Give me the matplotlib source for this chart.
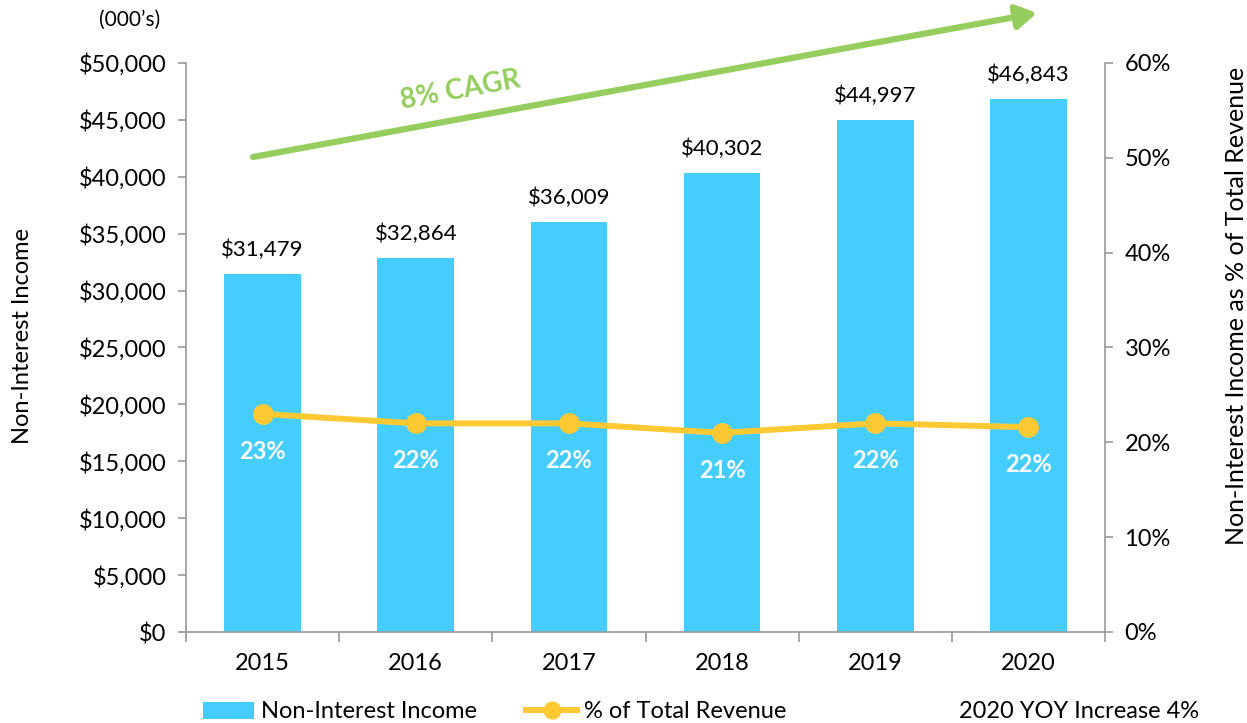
import matplotlib
matplotlib.use("Agg")
import matplotlib.pyplot as plt
from matplotlib.ticker import FuncFormatter, FixedLocator
from matplotlib.patches import Patch, FancyArrowPatch
from matplotlib.lines import Line2D

years = ["2015", "2016", "2017", "2018", "2019", "2020"]
income = [31479, 32864, 36009, 40302, 44997, 46843]
pct_revenue = [0.230, 0.220, 0.220, 0.210, 0.220, 0.216]
pct_labels = ["23%", "22%", "22%", "21%", "22%", "22%"]
left_ticks = [0, 5000, 10000, 15000, 20000, 25000, 30000, 35000, 40000, 45000, 50000]
right_ticks = [0, 0.1, 0.2, 0.3, 0.4, 0.5, 0.6]

BAR = "#46CDFF"
LINE = "#FFC933"
GREEN = "#95CE5F"
GREY = "#9A9A9A"

plt.rcParams['font.family'] = ['Lato', 'DejaVu Sans']

W, H = 1247, 723
fig = plt.figure(figsize=(W / 100, H / 100), dpi=100)
ax = fig.add_axes([186 / W, 1 - 632 / H, (1105 - 186) / W, (632 - 63) / H])
x = list(range(len(years)))
ax.bar(x, income, width=0.5, color=BAR, zorder=2)
ax.set_xlim(-0.5, len(years) - 0.5)
ax.set_ylim(0, 50000)
ax.yaxis.set_major_locator(FixedLocator(left_ticks))
ax.yaxis.set_major_formatter(FuncFormatter(lambda v, p: f"${v:,.0f}"))
ax.set_xticks(x)
ax.set_xticklabels(years)
ax.set_xticks([i - 0.5 for i in range(len(years) + 1)], minor=True)
ax.tick_params(axis='x', which='major', length=0, pad=15, labelsize=17)
ax.tick_params(axis='x', which='minor', length=7, color=GREY, width=1.2, direction='out')
ax.tick_params(axis='y', length=6, color=GREY, width=1.2, labelsize=17, pad=8)
for s in ['top', 'right']:
    ax.spines[s].set_visible(False)
for s in ['left', 'bottom']:
    ax.spines[s].set_color(GREY)
    ax.spines[s].set_linewidth(1.2)

for xi, v in zip(x, income):
    ax.annotate(f"${v:,.0f}", (xi, v), xytext=(0, 10), textcoords='offset points',
                ha='center', va='bottom', fontsize=16)

ax2 = ax.twinx()
ax2.set_ylim(0, 0.6)
ax2.yaxis.set_major_locator(FixedLocator(right_ticks))
ax2.yaxis.set_major_formatter(FuncFormatter(lambda v, p: f"{v*100:.0f}%"))
ax2.tick_params(axis='y', length=6, color=GREY, width=1.2, labelsize=17, pad=8)
for s in ['top', 'left', 'bottom']:
    ax2.spines[s].set_visible(False)
ax2.spines['right'].set_color(GREY)
ax2.spines['right'].set_linewidth(1.2)
ax2.plot(x, pct_revenue, color=LINE, lw=4.3, marker='o', markersize=14, zorder=3)
for xi, v, lab in zip(x, pct_revenue, pct_labels):
    ax2.annotate(lab, (xi, v), xytext=(0, -27), textcoords='offset points',
                 ha='center', va='center', fontsize=17, fontweight='bold', color='white')

fig.text(23 / W, 1 - 336 / H, "Non-Interest Income", rotation=90, ha='center',
         va='center', fontsize=17)
fig.text(1237 / W, 1 - 306 / H, "Non-Interest Income as % of Total Revenue",
         rotation=90, ha='center', va='center', fontsize=18)
fig.text(130 / W, 1 - 20 / H, "(000\u2019s)", ha='center', va='center', fontsize=15)

# CAGR arrow
fig.patches.append(FancyArrowPatch(
    (253 / W, 1 - 157 / H), (1037 / W, 1 - 13 / H), transform=fig.transFigure,
    arrowstyle='-|>,head_length=10,head_width=6', mutation_scale=1.2,
    color=GREEN, lw=4.5, shrinkA=0, shrinkB=0))
fig.text(460 / W, 1 - 90 / H, "8% CAGR", ha='center', va='center', fontsize=20,
         fontweight='bold', color=GREEN, rotation=10.4)

handles = [Patch(facecolor=BAR, edgecolor='none'),
           Line2D([0], [0], color=LINE, lw=4.3, marker='o', markersize=12)]
fig.legend(handles, ["Non-Interest Income", "% of Total Revenue"], ncol=2,
           loc='center left', bbox_to_anchor=(203 / W, 1 - 712 / H), frameon=False,
           fontsize=17, handlelength=2.15, handletextpad=0.3, columnspacing=2.1,
           borderaxespad=0, borderpad=0)
fig.text(1199 / W, 1 - 712 / H, "2020 YOY Increase 4%", ha='right', va='center', fontsize=17)

fig.savefig("out.png", dpi=100)
